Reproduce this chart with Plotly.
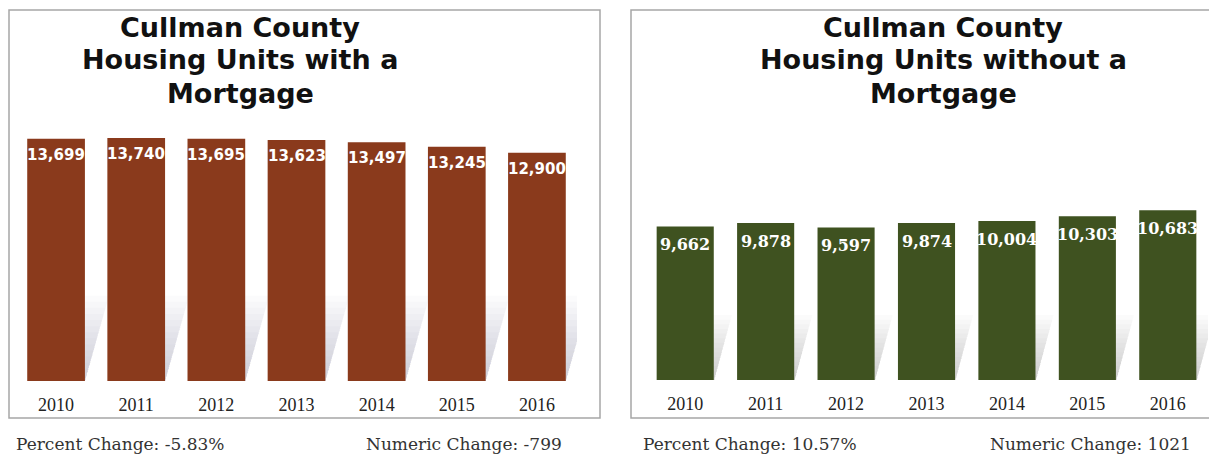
import plotly.graph_objects as go

# Housing units in Cullman County, 2010-2016
years = ["2010", "2011", "2012", "2013", "2014", "2015", "2016"]
with_mortgage = [13699, 13740, 13695, 13623, 13497, 13245, 12900]
without_mortgage = [9662, 9878, 9597, 9874, 10004, 10303, 10683]

title_left = ["Cullman County", "Housing Units with a", "Mortgage"]
title_right = ["Cullman County", "Housing Units without a", "Mortgage"]
notes_left = ["Percent Change: -5.83%", "Numeric Change: -799"]
notes_right = ["Percent Change: 10.57%", "Numeric Change: 1021"]

W, H = 1209, 456
RUST = "#8a3a1c"
OLIVE = "#3f5220"

pos = list(range(len(years)))


def px(x):
    return x / W


def py(y):
    return (H - y) / H


fig = go.Figure()
fig.add_trace(go.Bar(x=pos, y=with_mortgage, width=0.72, marker=dict(color=RUST, line=dict(width=0)),
                     xaxis="x", yaxis="y", customdata=years, hovertemplate="%{customdata}: %{y:,}<extra></extra>"))
fig.add_trace(go.Bar(x=pos, y=without_mortgage, width=0.71, marker=dict(color=OLIVE, line=dict(width=0)),
                     xaxis="x2", yaxis="y2", customdata=years, hovertemplate="%{customdata}: %{y:,}<extra></extra>"))

y1_max = 14190
y2_max = 15730

shapes = []
# panel frames
shapes.append(dict(type="rect", xref="paper", yref="paper", x0=px(9), x1=px(600), y0=py(418), y1=py(10),
                   line=dict(color="#a6a6a6", width=1.5), layer="below"))
shapes.append(dict(type="rect", xref="paper", yref="paper", x0=px(631), x1=px(1215), y0=py(418), y1=py(10),
                   line=dict(color="#a6a6a6", width=1.5), layer="below"))


# soft slanted shadows cast behind each bar, stacked thin layers fade them upward
def add_shadows(xref, yref, ymax, top_frac, slant, alpha, n=14):
    for i in pos:
        for k in range(n):
            f = (k + 1) / n
            h = ymax * top_frac * f
            x_a = i - 0.30
            x_b = i + 0.36
            path = (f"M {x_a},0 L {x_b},0 L {x_b + slant * f},{h} L {x_a + slant * f},{h} Z")
            shapes.append(dict(type="path", xref=xref, yref=yref, path=path,
                               fillcolor=f"rgba(150,152,158,{alpha})",
                               line=dict(width=0), layer="below"))


add_shadows("x", "y", y1_max, 0.34, 0.30, 0.035)
add_shadows("x2", "y2", y2_max, 0.26, 0.22, 0.04)

annotations = []
# bar value labels
for i, v in zip(pos, with_mortgage):
    annotations.append(dict(x=i, y=v, xref="x", yref="y", text=f"{v:,}", showarrow=False,
                            yanchor="top", yshift=-5,
                            font=dict(family="DejaVu Sans", size=15, color="white", weight="bold")))
for i, v in zip(pos, without_mortgage):
    annotations.append(dict(x=i, y=v, xref="x2", yref="y2", text=f"{v:,}", showarrow=False,
                            yanchor="top", yshift=-7,
                            font=dict(family="DejaVu Serif", size=16, color="white", weight="bold")))

title_font = dict(family="DejaVu Sans", size=27, color="#111111", weight="bold")
for cx, lines in [(240, title_left), (943, title_right)]:
    for j, line in enumerate(lines):
        annotations.append(dict(x=px(cx), y=py(27 + 33 * j), xref="paper", yref="paper", text=line,
                                showarrow=False, xanchor="center", yanchor="middle", font=title_font))

note_font = dict(family="DejaVu Serif", size=17, color="#333333")
for txt, x in [(notes_left[0], 14), (notes_left[1], 364), (notes_right[0], 641), (notes_right[1], 988)]:
    annotations.append(dict(x=px(x), y=py(444), xref="paper", yref="paper", text=txt, showarrow=False,
                            xanchor="left", yanchor="middle", font=note_font))

tick_font = dict(family="Liberation Serif, Times New Roman", size=18, color="#222222")
axis_common = dict(showgrid=False, zeroline=False, showline=False, ticks="", tickfont=tick_font,
                   tickmode="array", tickvals=pos, ticktext=years,
                   ticklabelstandoff=11, fixedrange=True, range=[-0.5, 6.5])
yaxis_common = dict(showgrid=False, zeroline=False, showline=False, showticklabels=False, ticks="",
                    fixedrange=True)

fig.update_layout(
    width=W, height=H,
    margin=dict(l=0, r=0, t=0, b=0),
    paper_bgcolor="white", plot_bgcolor="rgba(0,0,0,0)",
    showlegend=False,
    xaxis=dict(domain=[px(16), px(577)], anchor="y", **axis_common),
    yaxis=dict(domain=[py(381), py(130)], anchor="x", range=[0, y1_max], **yaxis_common),
    xaxis2=dict(domain=[px(645), px(1208)], anchor="y2", **axis_common),
    yaxis2=dict(domain=[py(380), py(130)], anchor="x2", range=[0, y2_max], **yaxis_common),
    shapes=shapes,
    annotations=annotations,
)

fig.write_html("out.html")
